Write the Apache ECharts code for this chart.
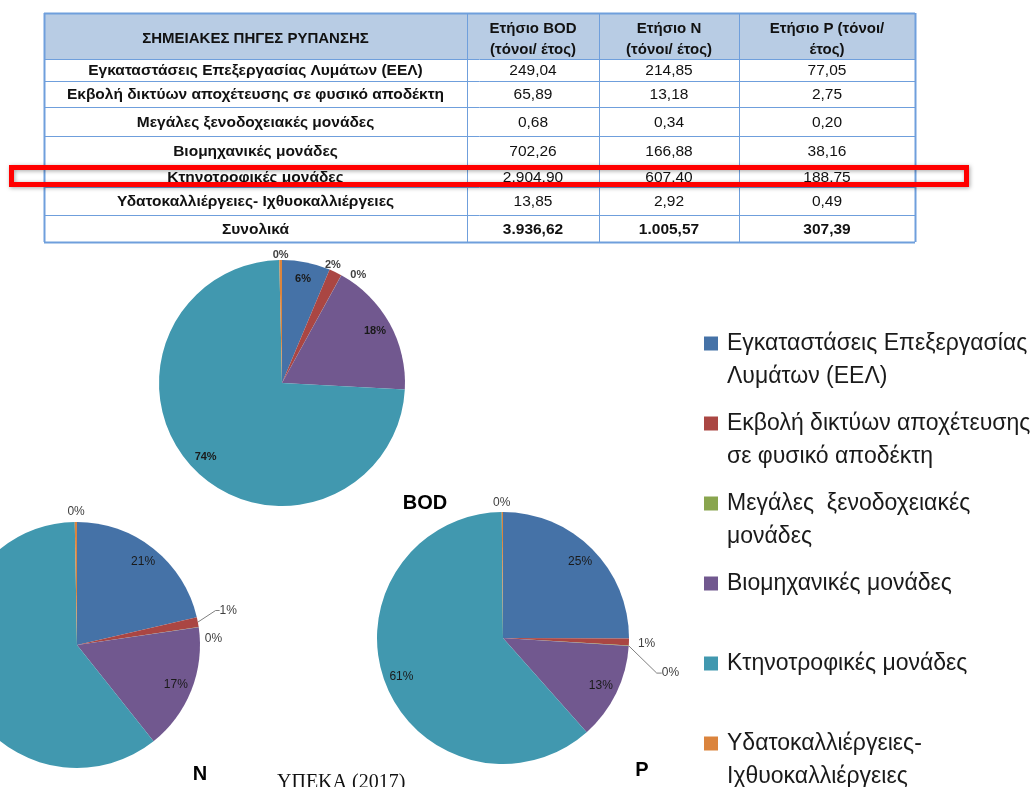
<!DOCTYPE html>
<html>
<head>
<meta charset="utf-8">
<script src="https://cdn.jsdelivr.net/npm/echarts@6.0.0/dist/echarts.min.js"></script>
<style>
  html, body { margin: 0; padding: 0; background: #fff; }
  #chart { width: 1033px; height: 787px; }
</style>
</head>
<body>
<div id="chart"></div>
<script>
// πηγές ρύπανσης και φορτία (τόνοι/έτος)
var sources = [
  'Εγκαταστάσεις Επεξεργασίας Λυμάτων (ΕΕΛ)',
  'Εκβολή δικτύων αποχέτευσης σε φυσικό αποδέκτη',
  'Μεγάλες ξενοδοχειακές μονάδες',
  'Βιομηχανικές μονάδες',
  'Κτηνοτροφικές μονάδες',
  'Υδατοκαλλιέργειες- Ιχθυοκαλλιέργειες'
]
var bodValues = [249.04, 65.89, 0.68, 702.26, 2904.90, 13.85]
var nValues = [214.85, 13.18, 0.34, 166.88, 607.40, 2.92]
var pValues = [77.05, 2.75, 0.20, 38.16, 188.75, 0.49]
var totals = [3936.62, 1005.57, 307.39]
var tableHeader = ['ΣΗΜΕΙΑΚΕΣ ΠΗΓΕΣ ΡΥΠΑΝΣΗΣ', 'Ετήσιο BOD\n(τόνοι/ έτος)', 'Ετήσιο N\n(τόνοι/ έτος)', 'Ετήσιο P (τόνοι/\nέτος)']
var totalLabel = 'Συνολικά'
var legendLabels = [
  'Εγκαταστάσεις Επεξεργασίας\nΛυμάτων (ΕΕΛ)',
  'Εκβολή δικτύων αποχέτευσης\nσε φυσικό αποδέκτη',
  'Μεγάλες  ξενοδοχειακές\nμονάδες',
  'Βιομηχανικές μονάδες\n ',
  'Κτηνοτροφικές μονάδες\n ',
  'Υδατοκαλλιέργειες-\nΙχθυοκαλλιέργειες'
]
var pieTitles = ['BOD', 'N', 'P']
var sourceNote = 'ΥΠΕΚΑ (2017)'

var colors = ['#4572A7', '#AA4643', '#89A54E', '#71588F', '#4198AF', '#DB843D']
var FONT = '"Liberation Sans", Arial, sans-serif'

// 1234.5 -> 1.234,50
function fmt (v) {
  var parts = v.toFixed(2).split('.')
  return parts[0].replace(/\B(?=(\d{3})+(?!\d))/g, '.') + ',' + parts[1]
}

// ---- πίνακας (graphic) ----
var colX = [44, 467, 599, 739, 915]
var rowY = [13, 59, 81, 107, 136, 166, 187, 215, 242]
var lineColor = '#6f9fdc'
var gfx = []
gfx.push({
  type: 'rect',
  shape: { x: colX[0], y: rowY[0], width: colX[4] - colX[0], height: rowY[1] - rowY[0] },
  style: { fill: '#b8cce4' }
})
rowY.forEach(function (y, i) {
  var outer = i === 0 || i === rowY.length - 1
  gfx.push({
    type: 'line',
    shape: { x1: colX[0], y1: y + 0.5, x2: colX[4], y2: y + 0.5 },
    style: { stroke: lineColor, lineWidth: outer ? 2 : 1 }
  })
})
colX.forEach(function (x, i) {
  var outer = i === 0 || i === colX.length - 1
  gfx.push({
    type: 'line',
    shape: { x1: x + 0.5, y1: rowY[0], x2: x + 0.5, y2: rowY[rowY.length - 1] },
    style: { stroke: lineColor, lineWidth: outer ? 2 : 1 }
  })
})
function cellText (text, col, row, bold, size, dy) {
  return {
    type: 'text',
    x: (colX[col] + colX[col + 1]) / 2,
    y: (rowY[row] + rowY[row + 1]) / 2 + 1 + (dy || 0),
    style: {
      text: text, align: 'center', verticalAlign: 'middle',
      fontFamily: FONT, fontSize: size, fontWeight: bold ? 'bold' : 'normal',
      fill: '#111', lineHeight: 21
    }
  }
}
tableHeader.forEach(function (t, c) { gfx.push(cellText(t, c, 0, true, 15, 2)) })
sources.forEach(function (s, r) {
  gfx.push(cellText(s, 0, r + 1, true, 15.5))
  gfx.push(cellText(fmt(bodValues[r]), 1, r + 1, false, 15.5))
  gfx.push(cellText(fmt(nValues[r]), 2, r + 1, false, 15.5))
  gfx.push(cellText(fmt(pValues[r]), 3, r + 1, false, 15.5))
})
gfx.push(cellText(totalLabel, 0, 7, true, 15.5))
totals.forEach(function (t, c) { gfx.push(cellText(fmt(t), c + 1, 7, true, 15.5)) })

// κόκκινο πλαίσιο γύρω από τις κτηνοτροφικές μονάδες
gfx.push({
  type: 'rect', z: 10,
  shape: { x: 11.5, y: 167.5, width: 955, height: 17 },
  style: {
    fill: 'none', stroke: '#ff0000', lineWidth: 5,
    shadowBlur: 4, shadowColor: 'rgba(0,0,0,0.35)', shadowOffsetX: 1, shadowOffsetY: 1
  }
})

// τίτλοι πιτών + πηγή
var titlePos = [[425, 503], [200, 774], [642, 770]]
pieTitles.forEach(function (t, i) {
  gfx.push({
    type: 'text', x: titlePos[i][0], y: titlePos[i][1],
    style: { text: t, align: 'center', verticalAlign: 'middle', fontFamily: FONT, fontSize: 20, fontWeight: 'bold', fill: '#000' }
  })
})
gfx.push({
  type: 'text', x: 277, y: 783,
  style: { text: sourceNote, align: 'left', verticalAlign: 'middle', fontFamily: '"Liberation Serif", "Times New Roman", serif', fontSize: 20, fill: '#111' }
})

// ---- πίτες ----
// outside: ρυθμίσεις ετικετών έξω από την πίτα (len/len2 = labelLine, dist = απόσταση, dy = μετατόπιση)
var pieSets = [
  {
    values: bodValues, center: [282, 383], radius: 123,
    font: { fontSize: 11, fontWeight: 'bold' },
    outside: {
      1: { len: 8, len2: 0, line: false, dist: -14 },
      2: { len: 0, len2: 0, line: false, dist: 9 },
      5: { len: 5, len2: 0, line: false, dist: -8 }
    }
  },
  {
    values: nValues, center: [77, 645], radius: 123,
    font: { fontSize: 12, fontWeight: 'normal' },
    outside: {
      1: { len: 14, len2: 4, line: true, dist: 4, dy: -9 },
      2: { len: 0, len2: 0, line: false, dist: 6, dy: 11 },
      5: { len: 10, len2: 0, line: false, dist: -9 }
    }
  },
  {
    values: pValues, center: [503, 638], radius: 126,
    font: { fontSize: 12, fontWeight: 'normal' },
    outside: {
      1: { len: 0, len2: 0, line: false, dist: 9, dy: 2 },
      2: { len: 4, len2: 5, line: true, dist: 24, dy: 27 },
      5: { len: 9, len2: 0, line: false, dist: -8 }
    }
  }
]
var insideIdx = [0, 3, 4]

var mainSeries = pieSets.map(function (set) {
  return {
    type: 'pie',
    center: set.center,
    radius: set.radius,
    percentPrecision: 0,
    startAngle: 90,
    clockwise: true,
    avoidLabelOverlap: false,
    itemStyle: { borderWidth: 0 },
    label: {
      position: 'outside', formatter: '{d}%', color: '#404040',
      fontFamily: FONT, fontSize: set.font.fontSize, fontWeight: set.font.fontWeight
    },
    labelLine: { lineStyle: { color: '#7f7f7f', width: 1 }, smooth: false },
    labelLayout: function (params) {
      var o = set.outside[params.dataIndex]
      if (!o || !o.dy) return
      return { y: params.labelRect.y + params.labelRect.height / 2 + o.dy }
    },
    emphasis: { scale: false },
    data: set.values.map(function (v, i) {
      var o = set.outside[i]
      return {
        name: sources[i], value: v,
        label: { show: !!o, distanceToLabelLine: o ? o.dist : 5 },
        labelLine: { show: !!(o && o.line), length: o ? o.len : 0, length2: o ? o.len2 : 0 }
      }
    })
  }
})

// διαφανής δακτύλιος μόνο για τις εσωτερικές ετικέτες (πιο κοντά στην περιφέρεια)
var labelSeries = pieSets.map(function (set) {
  return {
    type: 'pie',
    silent: true,
    center: set.center,
    radius: [set.radius * 0.68, set.radius],
    percentPrecision: 0,
    itemStyle: { color: 'transparent' },
    label: {
      position: 'inside', formatter: '{d}%', color: '#1a1a1a',
      fontFamily: FONT, fontSize: set.font.fontSize, fontWeight: set.font.fontWeight
    },
    labelLine: { show: false },
    data: set.values.map(function (v, i) {
      return { name: sources[i], value: v, label: { show: insideIdx.indexOf(i) > -1 } }
    })
  }
})

var chart = echarts.init(document.getElementById('chart'))
chart.setOption({
  animation: false,
  color: colors,
  legend: {
    orient: 'vertical',
    left: 704,
    top: 294,
    height: 600,
    padding: 0,
    itemGap: -19,
    itemWidth: 14,
    itemHeight: 14,
    icon: 'rect',
    data: sources,
    formatter: function (name) {
      return ' \n' + legendLabels[sources.indexOf(name)]
    },
    textStyle: {
      fontFamily: FONT, fontSize: 23, lineHeight: 33, color: '#1a1a1a',
      padding: [0, 0, 0, 4]
    }
  },
  graphic: gfx,
  series: mainSeries.concat(labelSeries)
})
</script>
</body>
</html>
